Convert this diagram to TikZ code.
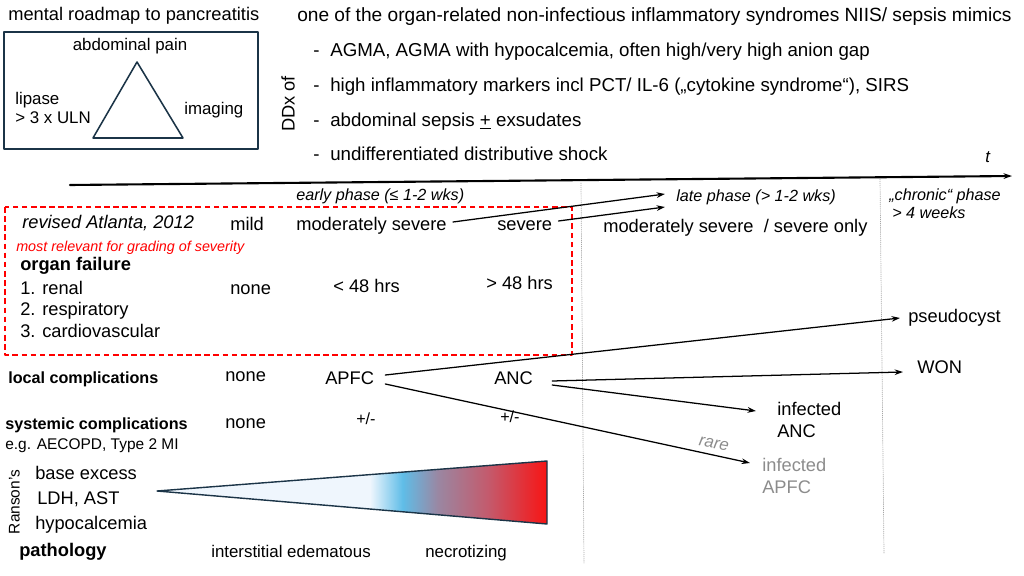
\documentclass[tikz,border=0pt]{standalone}
\usepackage{fontspec}
\setmainfont{Liberation Sans}
\usetikzlibrary{arrows.meta}
\definecolor{navy}{HTML}{1B3447}
\definecolor{ice}{HTML}{EFF6FD}
\definecolor{skyb}{HTML}{5FBDE8}
\definecolor{mauve}{HTML}{9A87A2}
\definecolor{rose}{HTML}{C45A6C}
\definecolor{redd}{HTML}{F81414}
\definecolor{rarecol}{HTML}{8C8C8C}
\pgfdeclarehorizontalshading{sevshade}{100bp}{color(0bp)=(ice); color(25bp)=(ice); color(52.3bp)=(ice); color(56.5bp)=(skyb); color(61bp)=(mauve); color(67.5bp)=(rose); color(75bp)=(redd); color(100bp)=(redd)}
\begin{document}
\begin{tikzpicture}[x=0.025cm,y=-0.025cm,line join=round,line cap=round,>={Stealth[length=6pt,width=4pt]},
	txt/.style={anchor=west,inner sep=0pt,text height=9pt,text depth=2.5pt,font=\fontsize{13}{15}\selectfont},
	lbl/.style={txt,font=\fontsize{11.5}{13}\selectfont\itshape},
	hdr/.style={txt,font=\fontsize{11.5}{13}\selectfont\bfseries},
	sml/.style={txt,font=\fontsize{11}{13}\selectfont},
	link/.style={->,line width=0.9pt}]
	\useasboundingbox (0,0) rectangle (1024,576);
	% mental roadmap
	\node[txt] (roadmap) at (8,16) {mental roadmap to pancreatitis};
	\draw[navy,line width=1.1pt] (4,32) rectangle (258,149);
	\node[txt,anchor=center,font=\fontsize{12}{14}\selectfont] (pain) at (130,46) {abdominal pain};
	\draw[navy,line width=1.1pt] (137,62) -- (183,138) -- (93,138) -- cycle;
	\node[txt,font=\fontsize{12}{14}\selectfont] (lipase) at (15,100) {lipase};
	\node[txt,font=\fontsize{12}{14}\selectfont] (uln) at (15,119) {> 3 x ULN};
	\node[txt,font=\fontsize{12}{14}\selectfont] (imaging) at (184,110) {imaging};
	\node[txt,anchor=center,rotate=90] (ddx) at (290,104) {DDx of};
	% sepsis mimics
	\node[txt,font=\fontsize{13.6}{15}\selectfont] (niis) at (297,17) {one of the organ-related non-infectious inflammatory syndromes NIIS/ sepsis mimics};
	\foreach \y/\t [count=\i] in {52/{AGMA, AGMA with hypocalcemia, often high/very high anion gap},
		87/{high inflammatory markers incl PCT/ IL-6 („cytokine syndrome“), SIRS},
		122/{abdominal sepsis \underline{+} exsudates},
		156/{undifferentiated distributive shock}}{
		\node[txt,font=\fontsize{13.3}{15}\selectfont] (dash\i) at (313,\y) {-};
		\node[txt,font=\fontsize{13.3}{15}\selectfont] (ddx\i) at (330,\y) {\t};
	}
	% time axis
	\coordinate (t0) at (70,185);
	\coordinate (t1) at (1012,176);
	\draw[->,line width=1.5pt] (t0) -- (t1);
	\node[txt,font=\fontsize{12}{14}\selectfont\itshape] (tlab) at (985,158) {t};
	\draw[gray!70,densely dotted,line width=0.5pt] (581,183) -- (584,563);
	\draw[gray!70,densely dotted,line width=0.5pt] (880,179) -- (884,554);
	\node[lbl] (early) at (296,196) {early phase (≤ 1-2 wks)};
	\node[lbl] (late) at (676,197) {late phase (> 1-2 wks)};
	\node[lbl] (chronic) at (889,196) {„chronic“ phase};
	\node[lbl] (weeks) at (892,214) {> 4 weeks};
	% revised Atlanta
	\draw[red,dashed,line width=0.9pt,dash pattern=on 4pt off 2.5pt,line cap=butt] (5,207) rectangle (572,355);
	\node[txt,font=\fontsize{13}{15}\selectfont\itshape] (atlanta) at (22,224) {revised Atlanta, 2012};
	\node[txt] (mild) at (230,226) {mild};
	\node[txt] (modsev) at (296,226) {moderately severe};
	\node[txt] (severe) at (497,226) {severe};
	\node[txt,font=\fontsize{10.2}{12}\selectfont\itshape,text=red] (relevant) at (16,247) {most relevant for grading of severity};
	\node[txt,font=\fontsize{13}{15}\selectfont\bfseries] (organ) at (20,266) {organ failure};
	\node[txt] (renal) at (20,290) {1. renal};
	\node[txt] (resp) at (20,311) {2. respiratory};
	\node[txt] (cardio) at (20,333) {3. cardiovascular};
	\node[txt] (none1) at (230,290) {none};
	\node[txt] (lt48) at (333,288) {< 48 hrs};
	\node[txt] (gt48) at (486,285) {> 48 hrs};
	\node[txt] (sevonly) at (603,228) {moderately severe \ / severe only};
	\coordinate (lateA) at (665,194);
	\coordinate (lateB) at (665,207);
	\draw[link] ([shift={(6,-4)}]modsev.east) -- (lateA);
	\draw[link] ([shift={(6,-5)}]severe.east) -- (lateB);
	% local complications
	\node[hdr] (local) at (8,379) {local complications};
	\node[txt] (none2) at (225,377) {none};
	\node[txt] (apfc) at (325,380) {APFC};
	\node[txt] (anc) at (494,380) {ANC};
	\node[txt] (pseudo) at (908,318) {pseudocyst};
	\node[txt] (won) at (917,369) {WON};
	\node[txt] (infanc) at (777,411) {infected};
	\node[txt] (infanc2) at (777,433) {ANC};
	\node[txt,text=rarecol] (infapfc) at (762,467) {infected};
	\node[txt,text=rarecol] (infapfc2) at (762,489) {APFC};
	\draw[link] ([shift={(11,-5)}]apfc.east) -- ([shift={(-8,0)}]pseudo.west);
	\draw[link] ([shift={(19,1)}]anc.east) -- ([shift={(-14,3)}]won.west);
	\draw[link] ([shift={(19,5)}]anc.east) -- ([shift={(-21,0)}]infanc.west);
	\draw[link] ([shift={(11,4)}]apfc.east) -- ([shift={(-12,-4)}]infapfc.west);
	\node[txt,anchor=center,rotate=-10,text=rarecol,font=\fontsize{12}{14}\selectfont\itshape] (rare) at (714,444) {rare};
	% systemic complications
	\node[hdr] (systemic) at (5,425) {systemic complications};
	\node[sml] (eg) at (5,445) {e.g. AECOPD, Type 2 MI};
	\node[txt] (none3) at (225,424) {none};
	\node[txt,font=\fontsize{11.5}{13}\selectfont] (pm1) at (356,420) {+/-};
	\node[txt,font=\fontsize{11.5}{13}\selectfont] (pm2) at (500,418) {+/-};
	% Ranson's and pathology
	\shade[shading=sevshade] (157,491) -- (547,461) -- (547,524) -- cycle;
	\draw[navy,line width=1pt] (157,491) -- (547,461) -- (547,524) -- cycle;
	\node[sml,anchor=center,rotate=90] (ranson) at (15,502) {Ranson’s};
	\node[txt] (base) at (35,475) {base excess};
	\node[txt] (ldh) at (37,500) {LDH, AST};
	\node[txt] (hypo) at (35,525) {hypocalcemia};
	\node[txt,font=\fontsize{13}{15}\selectfont\bfseries] (patho) at (19,552) {pathology};
	\node[sml,font=\fontsize{12}{14}\selectfont] (interst) at (211,553) {interstitial edematous};
	\node[sml,font=\fontsize{12}{14}\selectfont] (necro) at (425,553) {necrotizing};
\end{tikzpicture}
\end{document}
